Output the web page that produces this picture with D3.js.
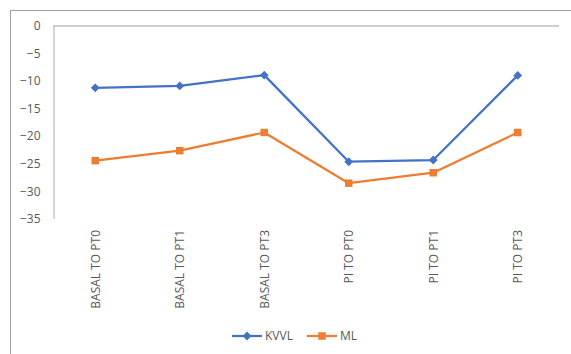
<!DOCTYPE html>
<html><head><meta charset="utf-8">
<script src="https://cdn.jsdelivr.net/npm/d3@7"></script>
<style>
html,body{margin:0;padding:0;background:#fff;}
svg{display:block;}
text{font-family:"Open Sans","Liberation Sans",sans-serif;fill:#595959;}
</style></head>
<body><svg id="c" width="571" height="354"></svg>
<script>
const categories = ["BASAL TO PT0","BASAL TO PT1","BASAL TO PT3","PI TO PT0","PI TO PT1","PI TO PT3"];
const kvvl = [-11.3, -10.95, -9.0, -24.7, -24.4, -9.05];
const ml = [-24.5, -22.7, -19.4, -28.6, -26.7, -19.4];
const yTicks = [0,-5,-10,-15,-20,-25,-30,-35];
const seriesNames = ["KVVL","ML"];

const svg = d3.select("#c");
svg.append("rect").attr("x",10.5).attr("y",10.5).attr("width",580).attr("height",360)
  .attr("fill","none").attr("stroke","#a0a0a0").attr("stroke-width",1);

const x = d3.scalePoint().domain(categories).range([53,560]).padding(0.5);
const y = d3.scaleLinear().domain([-35,0]).range([218.5,25.5]);

svg.append("line").attr("x1",53).attr("x2",559).attr("y1",y(0)+0.5).attr("y2",y(0)+0.5)
  .attr("stroke","#bfbfbf").attr("stroke-width",1.3);
const ya = d3.axisLeft(y).tickValues(yTicks).tickSize(0).tickPadding(13).tickFormat(d3.format("d"));
const yg = svg.append("g").attr("transform","translate(53.5,0)").call(ya);
yg.select(".domain").attr("stroke","#bfbfbf").attr("stroke-width",1.3);
yg.selectAll("text").style("font-size","12px").style("fill","#595959").attr("dy","0.35em");

const xa = d3.axisBottom(x).tickSize(0).tickPadding(0);
const xg = svg.append("g").attr("transform","translate(0,230)").call(xa);
xg.select(".domain").remove();
xg.selectAll("text").attr("dy","0.35em")
  .style("text-anchor","end").style("font-size","12px").style("fill","#595959")
  .attr("transform","rotate(-90)").attr("x",0).attr("y",0);

const colors = ["#4472C4","#ED7D31"];
const data = [kvvl, ml];
const line = d3.line().x((d,i)=>x(categories[i])).y(d=>y(d));
data.forEach((vals,si)=>{
  svg.append("path").datum(vals).attr("d",line).attr("fill","none")
    .attr("stroke",colors[si]).attr("stroke-width",2.25).attr("stroke-linejoin","round");
  const sym = si===0 ? d3.symbol().type(d3.symbolDiamond2).size(50) : d3.symbol().type(d3.symbolSquare).size(56);
  svg.append("g").selectAll("path").data(vals).join("path")
    .attr("transform",(d,i)=>`translate(${x(categories[i])},${y(d)})`)
    .attr("d",sym).attr("fill",colors[si]);
});

const legX = [232, 307];
seriesNames.forEach((n,si)=>{
  const g = svg.append("g").attr("transform",`translate(${legX[si]},336)`);
  g.append("line").attr("x1",0).attr("x2",30).attr("y1",0).attr("y2",0).attr("stroke",colors[si]).attr("stroke-width",2.25);
  const sym = si===0 ? d3.symbol().type(d3.symbolDiamond2).size(50) : d3.symbol().type(d3.symbolSquare).size(56);
  g.append("path").attr("transform","translate(15,0)").attr("d",sym).attr("fill",colors[si]);
  g.append("text").attr("x",33).attr("y",0).attr("dy","0.35em").style("font-size","12px").text(n);
});
</script></body></html>
